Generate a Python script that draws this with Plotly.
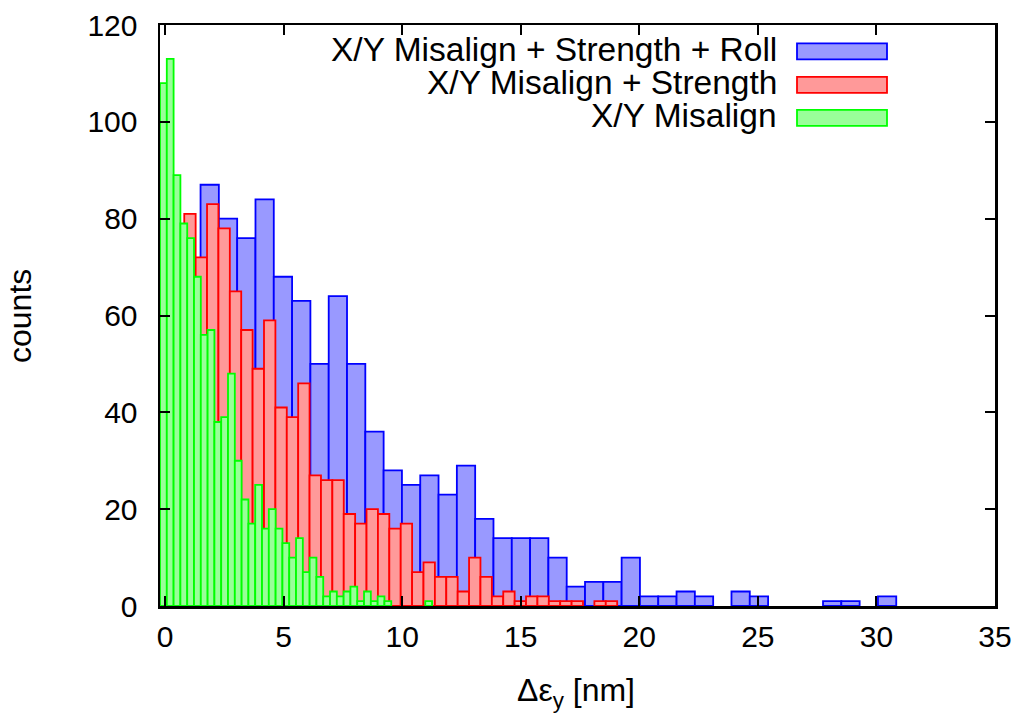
import plotly.graph_objects as go

# ---- data (histogram counts, 40 bins per series) ----
blue_counts = [25, 55, 87, 80, 76, 84, 68, 63, 50, 64, 50, 36, 28, 25, 27, 23, 29, 18, 14, 14,
               14, 10, 4, 5, 5, 10, 2, 2, 3, 2, 0, 3, 2, 0, 0, 0, 1, 1, 0, 2]
blue_start, blue_width = -0.044, 0.772

red_counts = [40, 68, 81, 72, 83, 78, 65, 57, 49, 59, 41, 39, 46, 27, 26, 26, 19, 17, 20, 19,
              16, 17, 7, 9, 6, 6, 3, 10, 6, 2, 3, 1, 2, 2, 1, 1, 1, 0, 1, 1]
red_start, red_width = -0.148, 0.4804

green_counts = [108, 113, 89, 79, 76, 68, 56, 57, 38, 39, 48, 30, 22, 17, 25, 16, 20, 16, 13, 10,
                14, 7, 10, 6, 2, 3, 2, 3, 4, 1, 3, 1, 2, 1, 0, 0, 0, 0, 0, 1]
green_start, green_width = -0.21, 0.2868

series_names = ["X/Y Misalign + Strength + Roll", "X/Y Misalign + Strength", "X/Y Misalign"]
x_ticks = [0, 5, 10, 15, 20, 25, 30, 35]
y_ticks = [0, 20, 40, 60, 80, 100, 120]

# ---- styling ----
W, H = 1022, 713
# plot-area edges in window pixels
L, R, T, B = 160, 995, 24.5, 606.5
FONT = "Liberation Sans, Arial, Helvetica, sans-serif"

styles = [
    ("rgba(153,153,255,1)", "rgb(0,0,255)"),
    ("rgba(255,153,153,1)", "rgb(255,0,0)"),
    ("rgba(153,255,153,1)", "rgb(0,255,0)"),
]

def centers(start, width, n):
    return [start + width * (i + 0.5) for i in range(n)]

fig = go.Figure()
for counts, start, width, name, (fill, edge) in [
    (blue_counts, blue_start, blue_width, series_names[0], styles[0]),
    (red_counts, red_start, red_width, series_names[1], styles[1]),
    (green_counts, green_start, green_width, series_names[2], styles[2]),
]:
    xs = centers(start, width, len(counts))
    xs_nz = [x for x, c in zip(xs, counts) if c > 0]
    ys_nz = [c for c in counts if c > 0]
    fig.add_trace(go.Bar(
        x=xs_nz, y=ys_nz, width=width,
        name=name, marker=dict(color=fill, line=dict(color=edge, width=1.8)),
        showlegend=False,
    ))

def px_x(p):
    return (p - L) / (R - L)

def px_y(p):
    return (B - p) / (B - T)

# manual legend (text right-aligned, sample box to the right)
legend_y = [51, 84.5, 117.5]
shapes = []
annotations = []
for name, yc, (fill, edge) in zip(series_names, legend_y, styles):
    annotations.append(dict(
        text=name, xref="paper", yref="paper", x=px_x(779), y=px_y(yc - 2),
        xanchor="right", yanchor="middle", showarrow=False,
        font=dict(family=FONT, size=33.5, color="black"),
    ))
    shapes.append(dict(
        type="rect", xref="paper", yref="paper",
        x0=px_x(797), x1=px_x(887), y0=px_y(yc + 8), y1=px_y(yc - 8),
        fillcolor=fill, line=dict(color=edge, width=1.8),
    ))

annotations.append(dict(
    text="counts", xref="paper", yref="paper", x=px_x(20), y=px_y(316),
    xanchor="center", yanchor="middle", textangle=-90, showarrow=False,
    font=dict(family=FONT, size=32, color="black"),
))
annotations.append(dict(
    text="Δε<sub>y</sub> [nm]", xref="paper", yref="paper", x=px_x(576), y=px_y(693),
    xanchor="center", yanchor="middle", showarrow=False,
    font=dict(family=FONT, size=32, color="black"),
))

axis_common = dict(
    showline=True, linecolor="black", linewidth=2.5, mirror="allticks",
    ticks="inside", ticklen=10, tickwidth=2, tickcolor="black",
    showgrid=False, zeroline=False, automargin=False,
    tickfont=dict(family=FONT, size=30, color="black"),
)

fig.update_layout(
    width=W, height=H,
    margin=dict(l=L, r=W - R, t=T, b=H - B, pad=0, autoexpand=False),
    paper_bgcolor="white", plot_bgcolor="white",
    barmode="overlay", bargap=0, hovermode=False,
    shapes=shapes, annotations=annotations,
    xaxis=dict(range=[-0.21, 35], tickvals=x_ticks, ticklabelstandoff=2, **axis_common),
    yaxis=dict(range=[0, 120], tickvals=y_ticks, ticklabelstandoff=14, **axis_common),
)

fig.write_html(
    "out.html",
    config={"displayModeBar": False, "staticPlot": True},
    post_script="document.body.style.margin='0';document.body.style.overflow='hidden';",
)
